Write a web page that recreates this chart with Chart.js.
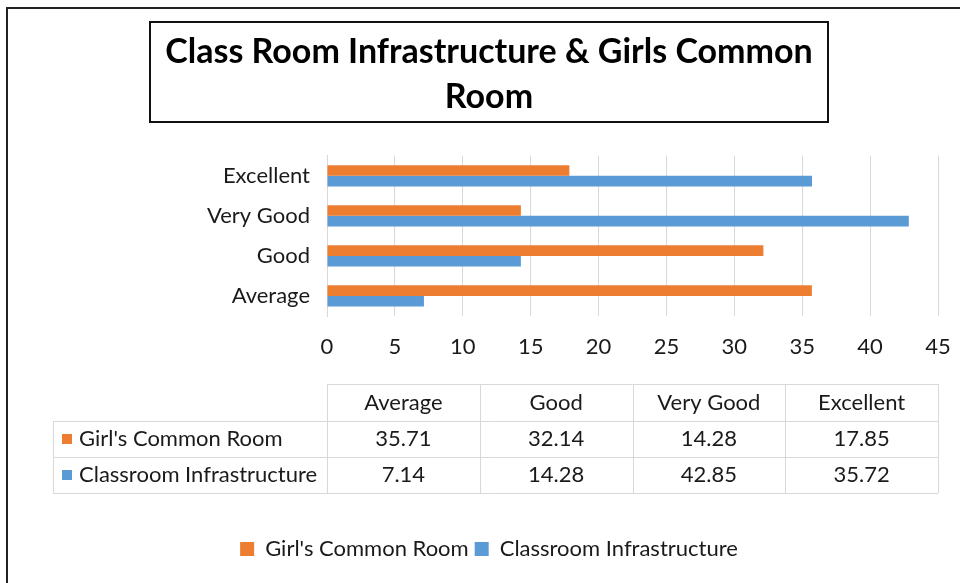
<!DOCTYPE html>
<html>
<head>
<meta charset="utf-8">
<script src="https://cdn.jsdelivr.net/npm/chart.js@4.4.1/dist/chart.umd.min.js"></script>
<style>
  body { margin: 0; background: #fff; }
  #wrap { position: relative; width: 960px; height: 583px; overflow: hidden; }
  #frame { position: absolute; left: 6px; top: 7px; width: 1000px; height: 700px;
           border-left: 2px solid #222; border-top: 2px solid #222; pointer-events: none; }
  canvas { position: absolute; left: 0; top: 0; }
</style>
</head>
<body>
<div id="wrap">
  <canvas id="barChart" width="960" height="583"></canvas>
  <div id="frame"></div>
</div>
<script>
const categories = ['Average', 'Good', 'Very Good', 'Excellent'];
const girlsCommonRoom = [35.71, 32.14, 14.28, 17.85];
const classroomInfra = [7.14, 14.28, 42.85, 35.72];
const seriesNames = ["Girl's Common Room", 'Classroom Infrastructure'];
const titleLines = ['Class Room Infrastructure & Girls Common', 'Room'];
const xMax = 45;
const xStep = 5;

const FONT = "Lato, 'Open Sans', sans-serif";
const TEXT = '#1a1a1a';
const GRID = '#d9d9d9';
const ORANGE = '#ED7D31';
const BLUE = '#5B9BD5';

// box around title + data table under the axis
const extras = {
  id: 'extras',
  afterDraw(chart) {
    const c = chart.ctx;
    const area = chart.chartArea;
    c.save();

    // title box
    c.strokeStyle = '#111';
    c.lineWidth = 2;
    c.strokeRect(150, 22, 678, 100);

    // data table
    const left = area.left, right = area.right;
    const colW = (right - left) / categories.length;
    const hTop = area.bottom + 68;
    const r1 = area.bottom + 105;
    const r2 = area.bottom + 141;
    const r3 = area.bottom + 177;
    const labelLeft = 53;

    c.strokeStyle = GRID;
    c.lineWidth = 1;
    c.beginPath();
    c.moveTo(left, hTop + 0.5); c.lineTo(right, hTop + 0.5);
    [r1, r2, r3].forEach(y => { c.moveTo(labelLeft, y + 0.5); c.lineTo(right, y + 0.5); });
    for (let i = 0; i <= categories.length; i++) {
      const x = Math.round(left + i * colW) + 0.5;
      c.moveTo(x, hTop); c.lineTo(x, r3);
    }
    c.moveTo(labelLeft + 0.5, r1); c.lineTo(labelLeft + 0.5, r3);
    c.stroke();

    c.fillStyle = TEXT;
    c.font = '22px ' + FONT;
    c.textBaseline = 'middle';
    c.textAlign = 'center';
    categories.forEach((cat, i) => {
      c.fillText(cat, left + (i + 0.5) * colW, (hTop + r1) / 2);
    });
    const rows = [
      { name: seriesNames[0], vals: girlsCommonRoom, color: ORANGE, top: r1, bottom: r2 },
      { name: seriesNames[1], vals: classroomInfra, color: BLUE, top: r2, bottom: r3 }
    ];
    rows.forEach(row => {
      const cy = (row.top + row.bottom) / 2;
      c.fillStyle = row.color;
      c.fillRect(labelLeft + 9, cy - 5, 10, 10);
      c.fillStyle = TEXT;
      c.textAlign = 'left';
      c.fillText(row.name, labelLeft + 26, cy);
      c.textAlign = 'center';
      row.vals.forEach((v, i) => {
        c.fillText(v.toFixed(2), left + (i + 0.5) * colW, cy);
      });
    });
    c.restore();
  }
};

new Chart(document.getElementById('barChart'), {
  type: 'bar',
  data: {
    labels: categories,
    datasets: [
      { label: seriesNames[0], data: girlsCommonRoom, backgroundColor: ORANGE },
      { label: seriesNames[1], data: classroomInfra, backgroundColor: BLUE }
    ]
  },
  options: {
    indexAxis: 'y',
    responsive: false,
    animation: false,
    datasets: { bar: { categoryPercentage: 0.53, barPercentage: 1 } },
    layout: { padding: { left: 40, right: 22, top: 0, bottom: 13 } },
    scales: {
      x: {
        min: 0, max: xMax,
        ticks: { stepSize: xStep, color: TEXT, padding: 18, font: { family: FONT, size: 22 } },
        grid: { color: GRID, drawTicks: false },
        border: { display: false },
        afterFit(scale) {
          scale.height = 216;
          scale.paddingLeft = 0;
          scale.paddingRight = 0;
        }
      },
      y: {
        reverse: true,
        ticks: { color: TEXT, padding: 17, font: { family: FONT, size: 22 } },
        grid: { display: false, drawTicks: false },
        border: { color: GRID },
        afterFit(scale) { scale.width = 287; }
      }
    },
    plugins: {
      title: {
        display: true,
        text: titleLines,
        color: '#000',
        font: { family: FONT, size: 34, weight: 'bold', lineHeight: 1.32 },
        padding: { top: 30, bottom: 36 }
      },
      legend: {
        position: 'bottom',
        labels: { color: TEXT, boxWidth: 14, boxHeight: 14, padding: 6, font: { family: FONT, size: 22 } }
      },
      tooltip: { enabled: false }
    }
  },
  plugins: [extras]
});
</script>
</body>
</html>
